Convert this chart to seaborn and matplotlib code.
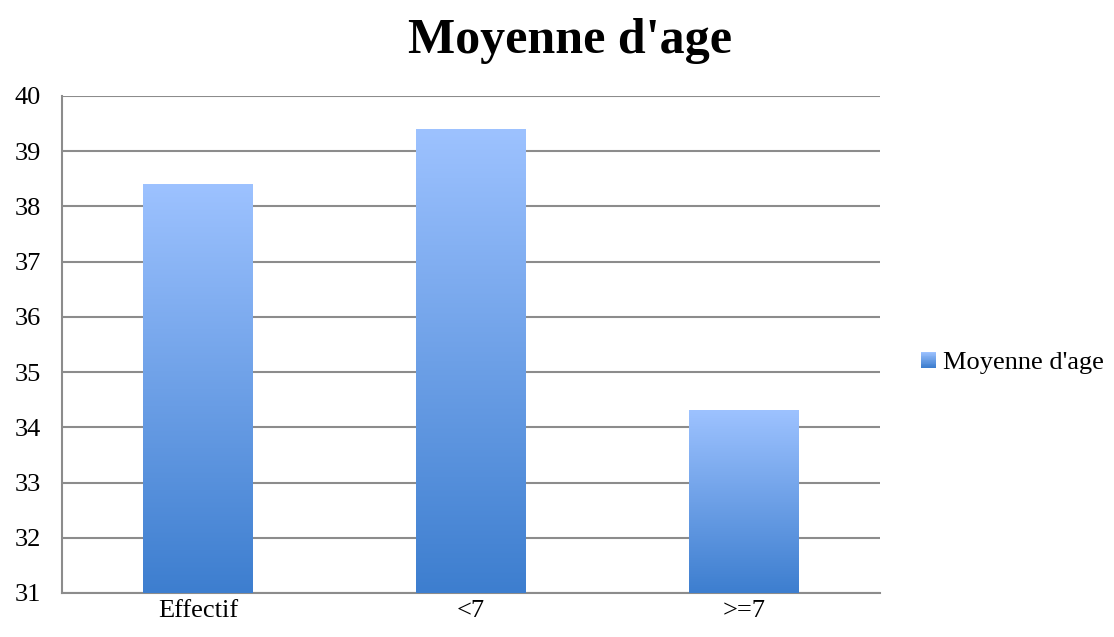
import numpy as np
import pandas as pd
import matplotlib
matplotlib.use("Agg")
import matplotlib.pyplot as plt
import seaborn as sns
from matplotlib.colors import LinearSegmentedColormap
from matplotlib.legend_handler import HandlerBase
from matplotlib.patches import Rectangle

# données
categories = ["Effectif", "<7", ">=7"]
moyennes = [38.4, 39.4, 34.3]
serie = "Moyenne d'age"
yticks = [31, 32, 33, 34, 35, 36, 37, 38, 39, 40]

sns.set_theme(style="white")
plt.rcParams['font.family'] = ['Liberation Serif', 'DejaVu Serif']
plt.rcParams['text.color'] = "black"
plt.rcParams['xtick.color'] = "black"
plt.rcParams['ytick.color'] = "black"

haut = "#9dc2ff"
bas = "#3d7ecf"
cmap = LinearSegmentedColormap.from_list("degrade", [bas, haut])
gris = "#8c8c8c"

df = pd.DataFrame({"categorie": categories, "valeur": moyennes})

fig = plt.figure(figsize=(11.14, 6.37), dpi=100)
ax = fig.add_axes([62 / 1114, 1 - 593 / 637, 818 / 1114, 497 / 637])

sns.barplot(data=df, x="categorie", y="valeur", width=0.403, color=haut,
            ax=ax, zorder=3)

# dégradé dans chaque barre
grad = np.linspace(0, 1, 256).reshape(-1, 1)
for p in ax.patches:
    x0 = p.get_x()
    x1 = x0 + p.get_width()
    y1 = p.get_height()
    y0 = yticks[0]
    ax.imshow(grad, extent=[x0, x1, y0, y1], origin="lower", cmap=cmap,
              aspect="auto", zorder=3)
    p.set_visible(False)

ax.set_xlim(-0.5, len(categories) - 0.5)
ax.set_ylim(yticks[0], yticks[-1])

ax.set_yticks(yticks)
ax.yaxis.grid(True, color=gris, lw=1.5, zorder=0)
ax.set_axisbelow(True)
ax.tick_params(axis="y", length=6, width=1.5, color=gris, labelsize=19, pad=9)
ax.tick_params(axis="x", length=0, labelsize=19, pad=5)
ax.set_xticks(np.arange(-0.5, len(categories)), minor=True)
ax.tick_params(axis="x", which="minor", length=6, width=1.5, color=gris)
ax.set_xlabel("")
ax.set_ylabel("")
for s in ["top", "right"]:
    ax.spines[s].set_visible(False)
for s in ["left", "bottom"]:
    ax.spines[s].set_color(gris)
    ax.spines[s].set_linewidth(1.5)

fig.text(0.512, 0.935, serie, ha="center", va="center", fontsize=36,
         fontweight="bold")


class HandlerDegrade(HandlerBase):
    def create_artists(self, legend, orig_handle, xdescent, ydescent,
                       width, height, fontsize, trans):
        n = 20
        artistes = []
        for i in range(n):
            c = cmap(1 - i / (n - 1))
            r = Rectangle((-xdescent, -ydescent + height * (1 - (i + 1) / n)),
                          width, height / n + 0.1, facecolor=c, lw=0,
                          transform=trans)
            artistes.append(r)
        return artistes


poignee = Rectangle((0, 0), 1, 1)
fig.legend([poignee], [serie], handler_map={Rectangle: HandlerDegrade()},
           loc="center left", bbox_to_anchor=(921 / 1114, 1 - 363 / 637),
           frameon=False, fontsize=19, handlelength=0.55, handleheight=0.55,
           handletextpad=0.3, borderaxespad=0, borderpad=0)

fig.savefig("out.png", dpi=100)
